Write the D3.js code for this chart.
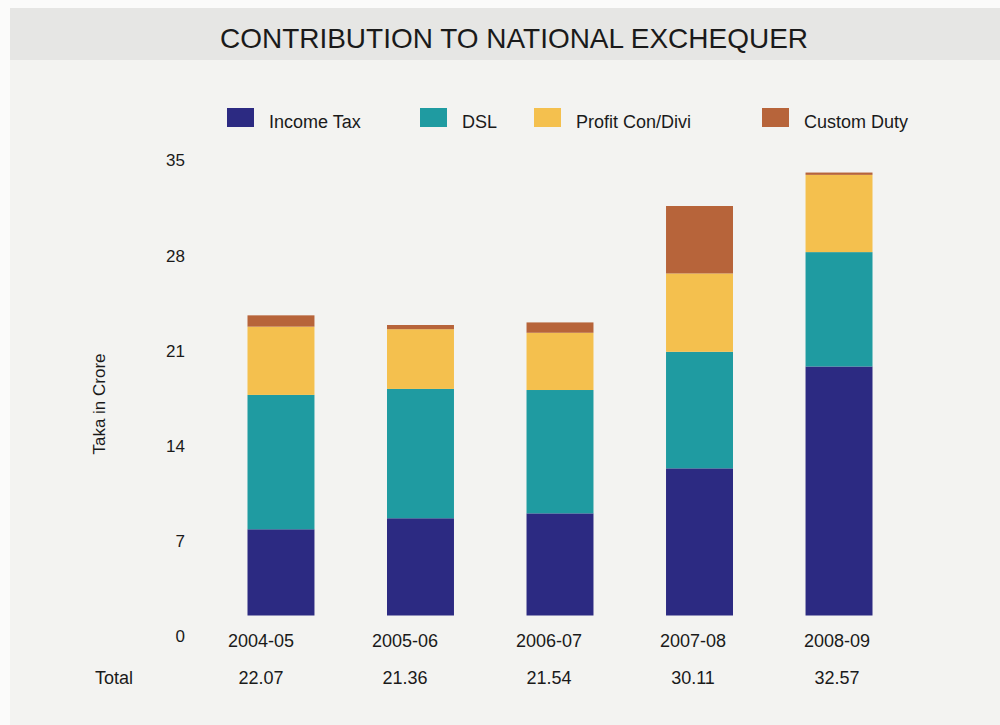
<!DOCTYPE html>
<html>
<head>
<meta charset="utf-8">
<script src="https://cdn.jsdelivr.net/npm/d3@7"></script>
<style>
  body { margin: 0; background: #fbfbfa; }
  text { font-family: "Liberation Sans", Arial, sans-serif; fill: #1a1a1a; }
</style>
</head>
<body>
<div id="chart"></div>
<script>
// values (Taka in Crore)
var years = ["2004-05", "2005-06", "2006-07", "2007-08", "2008-09"];
var incomeTax = [6.34, 7.15, 7.51, 10.82, 18.31];
var dsl = [9.88, 9.51, 9.07, 8.57, 8.41];
var profitCon = [5.02, 4.39, 4.21, 5.76, 5.68];
var customDuty = [0.83, 0.31, 0.76, 4.96, 0.17];
var totals = ["22.07", "21.36", "21.54", "30.11", "32.57"];
var seriesNames = ["Income Tax", "DSL", "Profit Con/Divi", "Custom Duty"];
var seriesKeys = ["incomeTax", "dsl", "profitCon", "customDuty"];
var yTicks = [0, 7, 14, 21, 28, 35];

var colors = {
    incomeTax: "#2c2a82",
    dsl: "#1f9ba1",
    profitCon: "#f4c04e",
    customDuty: "#b7643a"
};

var width = 1000, height = 725;

// build rows for d3.stack
var rows = years.map(function(y, i) {
    return {
        year: y,
        incomeTax: incomeTax[i],
        dsl: dsl[i],
        profitCon: profitCon[i],
        customDuty: customDuty[i]
    };
});

var svg = d3.select("#chart").append("svg")
    .attr("width", width)
    .attr("height", height);

// paper background + grey title band
svg.append("rect").attr("x", 10).attr("y", 8)
    .attr("width", width - 10).attr("height", height - 8)
    .attr("fill", "#f3f3f1");
svg.append("rect").attr("x", 10).attr("y", 8)
    .attr("width", width - 10).attr("height", 52)
    .attr("fill", "#e6e6e4");

svg.append("text")
    .attr("x", 220)
    .attr("y", 48)
    .attr("font-size", "28px")
    .attr("textLength", 588)
    .attr("lengthAdjust", "spacingAndGlyphs")
    .text("CONTRIBUTION TO NATIONAL EXCHEQUER");

// scales
var x = d3.scaleBand()
    .domain(years)
    .range([247.5, 872.5])
    .paddingInner(0.52)
    .paddingOuter(0);

var xLabel = d3.scalePoint()
    .domain(years)
    .range([261, 837]);

var y = d3.scaleLinear()
    .domain([0, 35])
    .range([615.5, 139.5]);

// stacked bars
var stack = d3.stack().keys(seriesKeys);
var stacked = stack(rows);

var layers = svg.selectAll("g.layer")
    .data(stacked)
    .enter()
    .append("g")
    .attr("class", "layer")
    .attr("fill", function(d) { return colors[d.key]; });

layers.selectAll("rect")
    .data(function(d) { return d; })
    .enter()
    .append("rect")
    .attr("x", function(d) { return x(d.data.year); })
    .attr("y", function(d) { return y(d[1]); })
    .attr("width", x.bandwidth())
    .attr("height", function(d) { return y(d[0]) - y(d[1]); });

// y axis, labels sit a little below their values as in the print
var yAxis = d3.axisLeft(y)
    .tickValues(yTicks)
    .tickSize(0)
    .tickPadding(0);

var yg = svg.append("g")
    .attr("class", "y-axis")
    .attr("transform", "translate(185,0)")
    .call(yAxis);
yg.select(".domain").remove();
yg.selectAll("text")
    .attr("font-size", "17px")
    .attr("font-family", "Liberation Sans, Arial, sans-serif")
    .attr("fill", "#1a1a1a")
    .attr("dy", "1.55em");

svg.append("text")
    .attr("transform", "translate(105,404) rotate(-90)")
    .attr("text-anchor", "middle")
    .attr("font-size", "17px")
    .text("Taka in Crore");

// category labels and totals row
svg.selectAll("text.year")
    .data(years)
    .enter()
    .append("text")
    .attr("class", "year")
    .attr("x", function(d) { return xLabel(d); })
    .attr("y", 647)
    .attr("text-anchor", "middle")
    .attr("font-size", "18px")
    .text(function(d) { return d; });

svg.append("text")
    .attr("x", 95)
    .attr("y", 684)
    .attr("font-size", "18px")
    .text("Total");

svg.selectAll("text.total")
    .data(totals)
    .enter()
    .append("text")
    .attr("class", "total")
    .attr("x", function(d, i) { return xLabel(years[i]); })
    .attr("y", 684)
    .attr("text-anchor", "middle")
    .attr("font-size", "18px")
    .text(function(d) { return d; });

// legend
var legendX = [227, 420, 534, 762];

var legend = svg.selectAll("g.legend")
    .data(seriesKeys)
    .enter()
    .append("g")
    .attr("class", "legend")
    .attr("transform", function(d, i) { return "translate(" + legendX[i] + ",108)"; });

legend.append("rect")
    .attr("width", 27)
    .attr("height", 19)
    .attr("fill", function(d) { return colors[d]; });

legend.append("text")
    .attr("x", 42)
    .attr("y", 20)
    .attr("font-size", "18px")
    .text(function(d, i) { return seriesNames[i]; });
</script>
</body>
</html>
